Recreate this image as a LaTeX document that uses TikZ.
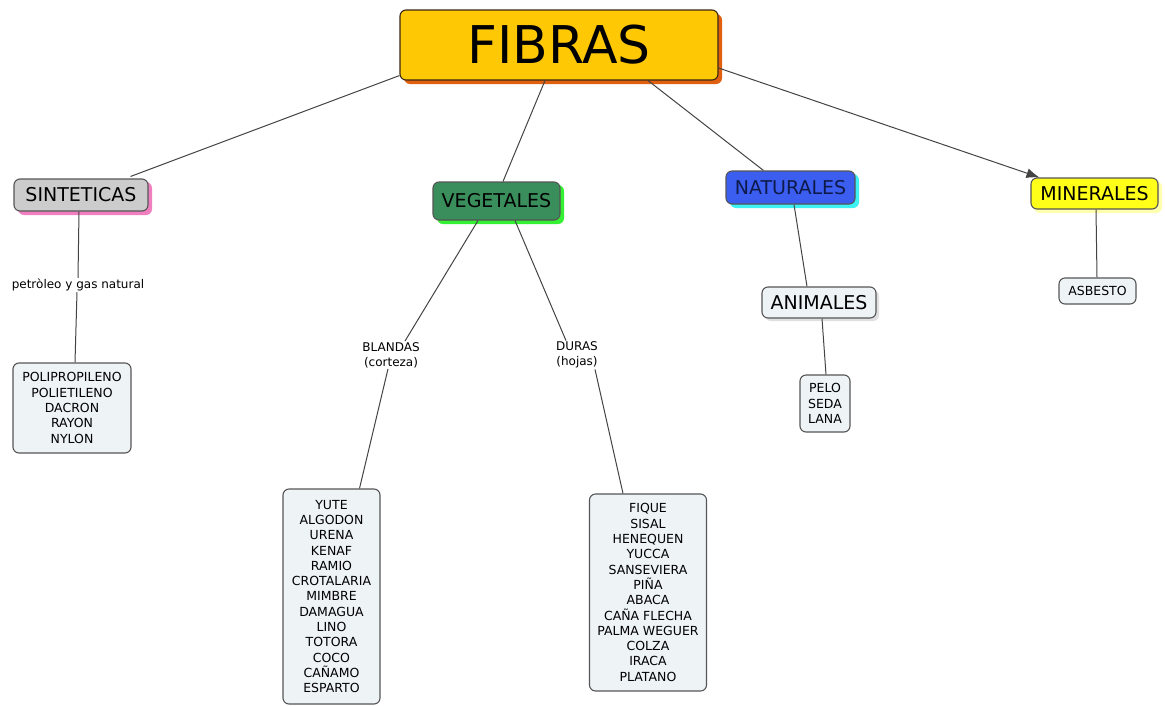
\documentclass[tikz,border=0pt]{standalone}
\usepackage{fontspec}
\setmainfont{DejaVu Sans}
\usetikzlibrary{calc,arrows.meta}
\definecolor{fibfill}{HTML}{FFC805}
\definecolor{fibshadow}{HTML}{E0600F}
\definecolor{sinfill}{HTML}{CCCCCC}
\definecolor{sinshadow}{HTML}{F07FC0}
\definecolor{vegfill}{HTML}{3A8E5C}
\definecolor{vegshadow}{HTML}{33F033}
\definecolor{natfill}{HTML}{3B5EF0}
\definecolor{natshadow}{HTML}{3DF2F2}
\definecolor{natext}{HTML}{0E1A4A}
\definecolor{minfill}{HTML}{FFFF1A}
\definecolor{minshadow}{HTML}{FFFFB0}
\definecolor{lstfill}{HTML}{EEF3F6}
\definecolor{bordc}{HTML}{555555}
\definecolor{linec}{HTML}{444444}
\tikzset{
  boxbase/.style={draw=bordc, line width=1.1pt, rounded corners=6pt, inner sep=0pt, align=center, text=black},
  catbox/.style={boxbase, font=\fontsize{19}{22}\selectfont},
  lstbox/.style={boxbase, fill=lstfill, font=\fontsize{12.5}{15.3}\selectfont},
  lbl/.style={inner sep=1pt, align=center, font=\fontsize{12}{15}\selectfont, text=black},
  conn/.style={draw=linec, line width=1pt},
}
\begin{document}
\begin{tikzpicture}[x=1pt,y=-1pt]
\useasboundingbox[fill=white] (0,0) rectangle (1165,705);
% shadows
\fill[fibshadow, rounded corners=6pt] (404,14) rectangle (722,84);
\fill[sinshadow, rounded corners=6pt] (18,182) rectangle (152,215);
\fill[vegshadow, rounded corners=6pt] (437,185) rectangle (564,224);
\fill[natshadow, rounded corners=6pt] (730,174) rectangle (859,208);
\fill[minshadow, rounded corners=6pt] (1034,181) rectangle (1162,213);
\fill[black!12, rounded corners=6pt] (765,290) rectangle (879,321);
% nodes
\node[boxbase, draw=black!70!brown, fill=fibfill, minimum width=318pt, minimum height=70pt, font=\fontsize{52}{56}\selectfont] (fib) at (559,45) {FIBRAS};
\node[catbox, fill=sinfill, minimum width=134pt, minimum height=32pt] (sin) at (81,195) {SINTETICAS};
\node[catbox, fill=vegfill, minimum width=127pt, minimum height=38pt] (veg) at (496.5,201) {VEGETALES};
\node[catbox, fill=natfill, text=natext, minimum width=129pt, minimum height=33pt] (nat) at (790.5,187.5) {NATURALES};
\node[catbox, fill=minfill, minimum width=127pt, minimum height=31pt] (min) at (1094.5,193.5) {MINERALES};
\node[catbox, fill=lstfill, minimum width=114pt, minimum height=31pt] (ani) at (819,302.5) {ANIMALES};
\node[lstbox, minimum width=77pt, minimum height=26pt] (asb) at (1097.5,291) {ASBESTO};
\node[lstbox, minimum width=118pt, minimum height=90pt] (pol) at (72,408) {POLIPROPILENO\\POLIETILENO\\DACRON\\RAYON\\NYLON};
\node[lstbox, minimum width=97pt, minimum height=215pt] (yut) at (331.5,596.5) {YUTE\\ALGODON\\URENA\\KENAF\\RAMIO\\CROTALARIA\\MIMBRE\\DAMAGUA\\LINO\\TOTORA\\COCO\\CAÑAMO\\ESPARTO};
\node[lstbox, minimum width=117pt, minimum height=197pt] (fiq) at (648,592.5) {FIQUE\\SISAL\\HENEQUEN\\YUCCA\\SANSEVIERA\\PIÑA\\ABACA\\CAÑA FLECHA\\PALMA WEGUER\\COLZA\\IRACA\\PLATANO};
\node[lstbox, minimum width=50pt, minimum height=57pt] (pel) at (825,403.5) {PELO\\SEDA\\LANA};
% labels
\node[lbl] (pet) at (78,285) {petròleo y gas natural};
\node[lbl] (bla) at (391,355) {BLANDAS\\(corteza)};
\node[lbl] (dur) at (577,355) {DURAS\\(hojas)};
% connectors
\draw[conn] ($(fib.south west)+(0,-5)$) -- ($(sin.north east)+(-18,-2)$);
\draw[conn] ($(fib.south)+(-14,0)$) -- ($(veg.north)+(6.5,0)$);
\draw[conn] ($(fib.south)+(89,0)$) -- ($(nat.north west)+(38,0)$);
\draw[conn, -{Latex[length=13pt,width=10pt]}] ($(fib.east)+(0,23)$) -- ($(min.north west)+(9,0)$);
\draw[conn] ($(sin.south)+(-2,0)$) -- (pet.north -| 78,0);
\draw[conn] ($(pet.south)+(-1,0)$) -- ($(pol.north)+(3,0)$);
\draw[conn] ($(veg.south)+(-18.5,0)$) -- ($(bla.north)+(14,0)$);
\draw[conn] ($(bla.south)+(-3,0)$) -- ($(yut.north)+(28,0)$);
\draw[conn] ($(veg.south)+(18.5,0)$) -- ($(dur.north)+(-11,0)$);
\draw[conn] ($(dur.south)+(18,0)$) -- ($(fiq.north)+(-25,0)$);
\draw[conn] ($(nat.south)+(3.5,0)$) -- ($(ani.north)+(-12,0)$);
\draw[conn] ($(ani.south)+(3,0)$) -- ($(pel.north)+(1,0)$);
\draw[conn] ($(min.south)+(1.5,0)$) -- ($(asb.north)+(-0.5,0)$);
\end{tikzpicture}
\end{document}
